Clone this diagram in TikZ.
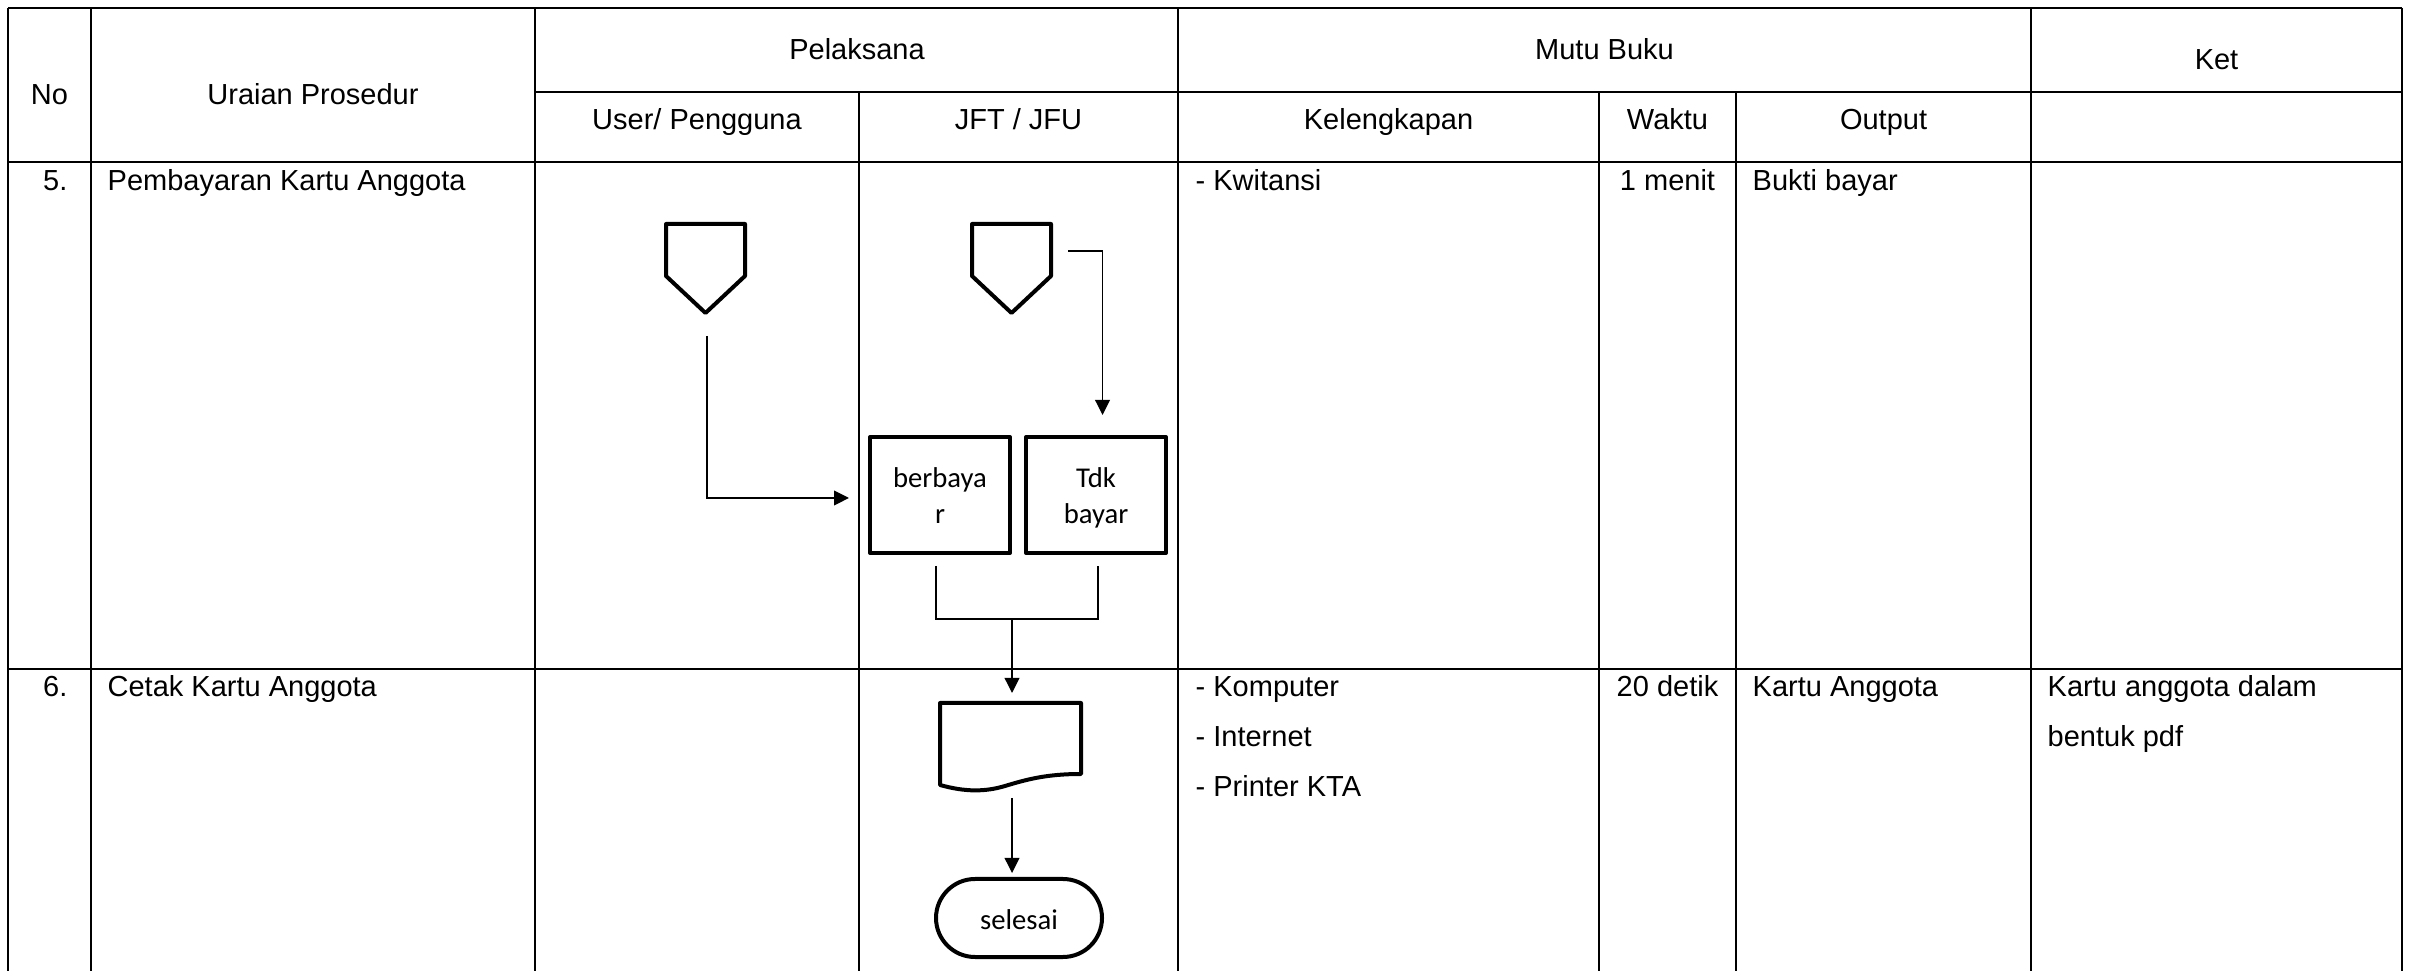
\documentclass[tikz,border=0pt]{standalone}
\usepackage{fontspec}
\setmainfont{Liberation Sans}
\newfontfamily\calib{Carlito}
\usetikzlibrary{arrows.meta}
\begin{document}
\begin{tikzpicture}[x=0.3pt,y=-0.3pt,
  grid/.style={line width=0.55pt},
  txt/.style={inner sep=0pt, font=\fontsize{8.7pt}{10pt}\selectfont},
  shp/.style={line width=1.2pt, line join=round},
  conn/.style={line width=0.45pt},
  arr/.style={conn,-{Triangle[length=4.5pt,width=4.4pt]}},
  procbox/.style={shp, draw, rectangle, minimum width=42pt, minimum height=34.8pt, inner sep=0pt, align=center, font=\calib\fontsize{8.6pt}{10.8pt}\selectfont},
  term/.style={shp, draw, rectangle, rounded corners=11.7pt, minimum width=49.8pt, minimum height=23.4pt, inner sep=0pt, font=\calib\fontsize{8.6pt}{10.8pt}\selectfont}
]
\useasboundingbox (0,0) rectangle (2412,971);
% table grid
\draw[grid] (8,8) -- (2402,8);
\draw[grid] (535,92) -- (2402,92);
\draw[grid] (8,162) -- (2402,162);
\draw[grid] (8,669) -- (2402,669);
\foreach \xx in {8,91,535,1178,2031,2402} \draw[grid] (\xx,8) -- (\xx,971);
\foreach \xx in {859,1599,1736} \draw[grid] (\xx,92) -- (\xx,971);
% header texts
\node[txt,anchor=base] (hno) at (49.5,105) {No};
\node[txt,anchor=base] (hur) at (313,105) {Uraian Prosedur};
\node[txt,anchor=base] (hpel) at (857,60) {Pelaksana};
\node[txt,anchor=base] (hmutu) at (1604.5,60) {Mutu Buku};
\node[txt,anchor=base] (hket) at (2216.5,70) {Ket};
\node[txt,anchor=base] (huser) at (697,130) {User/ Pengguna};
\node[txt,anchor=base] (hjft) at (1018.5,130) {JFT / JFU};
\node[txt,anchor=base] (hkel) at (1388.5,130) {Kelengkapan};
\node[txt,anchor=base] (hwak) at (1667.5,130) {Waktu};
\node[txt,anchor=base] (hout) at (1883.5,130) {Output};
% row 5
\node[txt,anchor=base east] (n5) at (68,191) {5.};
\node[txt,anchor=base west] (u5) at (107,191) {Pembayaran Kartu Anggota};
\node[txt,anchor=base west] (k5) at (1195,191) {- Kwitansi};
\node[txt,anchor=base] (w5) at (1667.5,191) {1 menit};
\node[txt,anchor=base west] (o5) at (1752,191) {Bukti bayar};
% row 6
\node[txt,anchor=base east] (n6) at (68,697) {6.};
\node[txt,anchor=base west] (u6) at (107,697) {Cetak Kartu Anggota};
\node[txt,anchor=base west] (k6a) at (1195,697) {- Komputer};
\node[txt,anchor=base west] (k6b) at (1195,747) {- Internet};
\node[txt,anchor=base west] (k6c) at (1195,797) {- Printer KTA};
\node[txt,anchor=base] (w6) at (1667.5,697) {20 detik};
\node[txt,anchor=base west] (o6) at (1752,697) {Kartu Anggota};
\node[txt,anchor=base west] (ket6a) at (2047,697) {Kartu anggota dalam};
\node[txt,anchor=base west] (ket6b) at (2047,747) {bentuk pdf};
% off-page connectors
\draw[shp] (666,224) -- (745,224) -- (745,276) -- (705.5,313) -- (666,276) -- cycle;
\draw[shp] (972,224) -- (1051,224) -- (1051,276) -- (1011.5,313) -- (972,276) -- cycle;
\coordinate (c1s) at (707,336);
\coordinate (c1e) at (849,498);
\coordinate (c2s) at (1068,251);
\coordinate (c2e) at (1102.5,415);
% process boxes
\node[procbox] (b1) at (940,495) {\rule{0pt}{8pt}berbaya\\r\rule[-1.6pt]{0pt}{0pt}};
\node[procbox] (b2) at (1096,495) {\rule{0pt}{8pt}Tdk\\bayar\rule[-1.6pt]{0pt}{0pt}};
\draw[arr] (c1s) |- (c1e);
\draw[arr] (c2s) -| (c2e);
% merge bracket
\coordinate (k1) at (936,566);
\coordinate (k2) at (1098,566);
\coordinate (kj) at (1012,619);
\coordinate (dtop) at (1012,693);
\draw[conn] (k1) |- (kj) -| (k2);
\draw[arr] (kj) -- (dtop);
% document shape
\draw[shp] (940,703) -- (1081,703) -- (1081,774)
  .. controls (1045,774) and (1025,780) .. (1005,786)
  .. controls (985,792) and (965,792) .. (940,785) -- cycle;
\coordinate (dbot) at (1012,798);
% terminal
\node[term] (t1) at (1019,918) {\rule{0pt}{7.2pt}selesai};
\draw[arr, shorten >=1.2pt] (dbot) -- (dbot |- t1.north);
\end{tikzpicture}
\end{document}
